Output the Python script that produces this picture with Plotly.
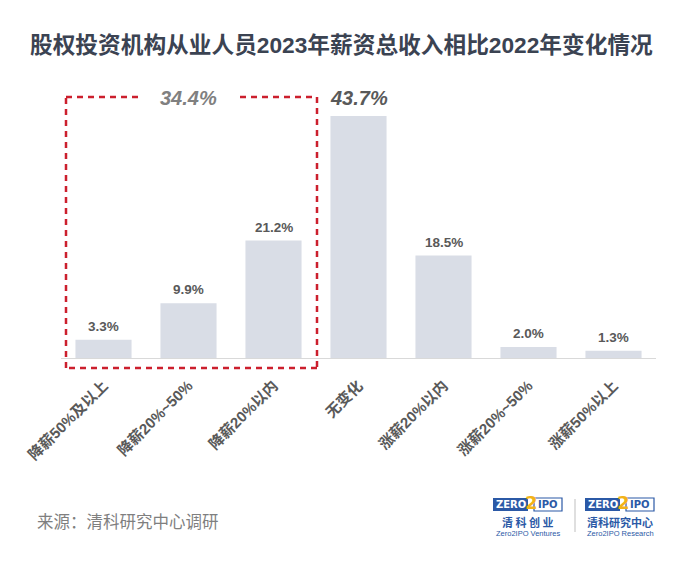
import plotly.graph_objects as go

# 数据
categories = ["降薪50%及以上", "降薪20%-50%", "降薪20%以内", "无变化",
              "涨薪20%以内", "涨薪20%-50%", "涨薪50%以上"]
tick_text = ["降薪50%及以上", "降薪20%~50%", "降薪20%以内", "无变化",
             "涨薪20%以内", "涨薪20%~50%", "涨薪50%以上"]
values = [3.3, 9.9, 21.2, 43.7, 18.5, 2.0, 1.3]
highlight_idx = 3
cut_group = [0, 1, 2]
cut_total = round(sum(values[i] for i in cut_group), 1)

W, H = 700, 562
L, R, T, B = 61, 44, 81, 204
FONT = "Liberation Sans, Noto Sans CJK SC, Arial, sans-serif"


def px(x):
    return (x - L) / (W - L - R)


def py(y):
    return (H - B - y) / (H - T - B)


def note(x, y, text, size, color, family=FONT, xanchor="center"):
    fig.add_annotation(xref="paper", yref="paper", x=px(x), y=py(y), text=text,
                       showarrow=False, xanchor=xanchor, yanchor="middle",
                       font=dict(family=family, size=size, color=color))


fig = go.Figure()
fig.add_trace(go.Bar(
    x=categories, y=values,
    marker=dict(color="#d9dde6", line_width=0),
    hoverinfo="x+y", showlegend=False,
))

# 数值标签
for i, (c, v) in enumerate(zip(categories, values)):
    if i == highlight_idx:
        fig.add_annotation(x=c, y=v, text=f"<b><i>{v:.1f}%</i></b>", showarrow=False,
                           xanchor="center", yanchor="bottom", yshift=5,
                           font=dict(family=FONT, size=20, color="#595959"))
    else:
        fig.add_annotation(x=c, y=v, text=f"<b>{v:.1f}%</b>", showarrow=False,
                           xanchor="center", yanchor="bottom", yshift=4,
                           font=dict(family=FONT, size=13.5, color="#595959"))

# 降薪合计
fig.add_annotation(x=categories[1], y=values[highlight_idx], text=f"<b><i>{cut_total:.1f}%</i></b>",
                   showarrow=False, xanchor="center", yanchor="bottom", yshift=5,
                   font=dict(family=FONT, size=20, color="#808080"))

# 红色虚线框
red = dict(color="#cc1f2d", width=2.5, dash="6px,5px")
x0, x1, y0, y1 = 66, 317, 97, 368
segs = [((x0, y0), (143, y0)), ((240, y0), (x1, y0)), ((x1, y0), (x1, y1)),
        ((x1, y1), (x0, y1)), ((x0, y1), (x0, y0))]
for (a, b), (c, d) in segs:
    fig.add_shape(type="line", xref="paper", yref="paper",
                  x0=px(a), y0=py(b), x1=px(c), y1=py(d), line=red)

# 来源
note(35, 522, "来源：清科研究中心调研", 16.5, "#7f7f7f", xanchor="left")

# Logo
blue = "#2b59a6"
for lx, cn, en in [(493, "清 科 创 业", "Zero2IPO Ventures"), (585, "清科研究中心", "Zero2IPO Research")]:
    fig.add_shape(type="rect", xref="paper", yref="paper", x0=px(lx), x1=px(lx + 35),
                  y0=py(511), y1=py(498), fillcolor=blue, line_width=0)
    fig.add_shape(type="rect", xref="paper", yref="paper", x0=px(lx + 41), x1=px(lx + 69),
                  y0=py(511), y1=py(498), fillcolor="white", line=dict(color=blue, width=1.2))
    note(lx + 17.5, 504.5, "<b>ZERO</b>", 10, "white", family="DejaVu Sans")
    note(lx + 55, 504.5, "<b>IPO</b>", 10, blue, family="DejaVu Sans")
    note(lx + 38, 503, "<b>2</b>", 18, "#f2b318", family="DejaVu Sans")
    note(lx + 35, 522, f"<b>{cn}</b>", 11, blue, family="Noto Sans CJK SC")
    note(lx + 35, 533.5, en, 7.5, blue, family="Liberation Sans")
fig.add_shape(type="line", xref="paper", yref="paper", x0=px(575), x1=px(575),
              y0=py(499), y1=py(532), line=dict(color="#bfbfbf", width=1))

fig.update_layout(
    width=W, height=H,
    margin=dict(l=L, r=R, t=T, b=B, autoexpand=False),
    title=dict(text="<b>股权投资机构从业人员2023年薪资总收入相比2022年变化情况</b>",
               x=30 / W, xanchor="left", xref="container", y=1 - 45 / H, yanchor="middle",
               pad=dict(l=0, r=0, t=0, b=0),
               font=dict(family=FONT, size=22.7, color="#3b4352")),
    plot_bgcolor="white", paper_bgcolor="white",
    bargap=0.34,
    xaxis=dict(tickmode="array", tickvals=categories, ticktext=[f"<b>{t}</b>" for t in tick_text],
               tickangle=-45, tickfont=dict(family=FONT, size=15, color="#595959"),
               ticklabelstandoff=12,
               showline=True, linecolor="#d9d9d9", linewidth=1, ticks="", automargin=False),
    yaxis=dict(range=[0, 50], visible=False, automargin=False),
)

# 去掉页面默认边距
fig.write_html("out.html", config={"displayModeBar": False},
               post_script="document.body.style.margin='0';")
